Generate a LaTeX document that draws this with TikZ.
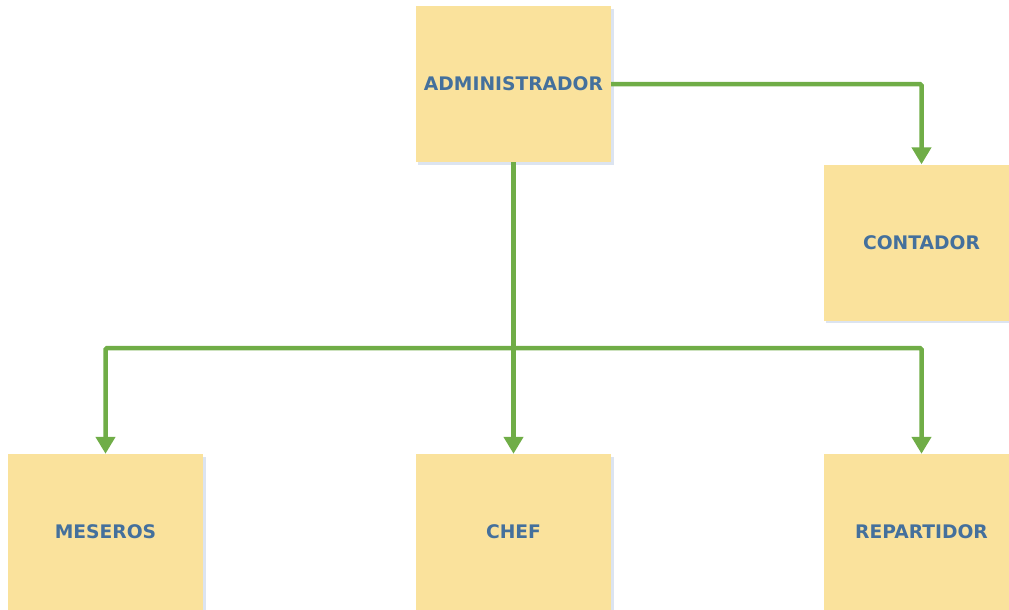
\documentclass[tikz,border=0pt]{standalone}
\usepackage{fontspec}
\setmainfont{DejaVu Sans}
\usetikzlibrary{arrows.meta}
\definecolor{boxfill}{HTML}{FAE29C}
\definecolor{txtblue}{HTML}{44709C}
\definecolor{lgreen}{HTML}{70AD47}
\definecolor{shadowc}{HTML}{DCE4F0}
\begin{document}
\begin{tikzpicture}[x=1pt,y=-1pt,
  box/.style={fill=boxfill, draw=none, minimum width=195pt, minimum height=156pt, inner sep=0pt,
    font=\fontsize{18.7}{20}\selectfont\bfseries, text=txtblue},
  conn/.style={draw=lgreen, line width=4.5pt, rounded corners=1.5pt,
    -{Triangle[width=19pt,length=17pt]}}]
\useasboundingbox (0,0) rectangle (1009,610);
\begin{scope}
\clip (0,0) rectangle (1009,610);
% shadows
\foreach \x/\y in {416/6, 824/164, 8/454, 416/454, 824/454}{
  \fill[shadowc] (\x+2,\y+3) rectangle (\x+198,\y+159);
}
\node[box] (adm) at (513.5,84) {ADMINISTRADOR};
\node[box] (con) at (921.5,242.5) {CONTADOR};
\node[box] (mes) at (105.5,532) {MESEROS};
\node[box] (chef) at (513.5,532) {CHEF};
\node[box] (rep) at (921.5,532) {REPARTIDOR};
\end{scope}
\coordinate (hub) at (513.5,348);
\draw[conn] (adm.east) -| (con.north);
\draw[conn] (adm.south) -- (chef.north);
\draw[conn] (hub) -| (mes.north);
\draw[conn] (hub) -| (rep.north);
\end{tikzpicture}
\end{document}
